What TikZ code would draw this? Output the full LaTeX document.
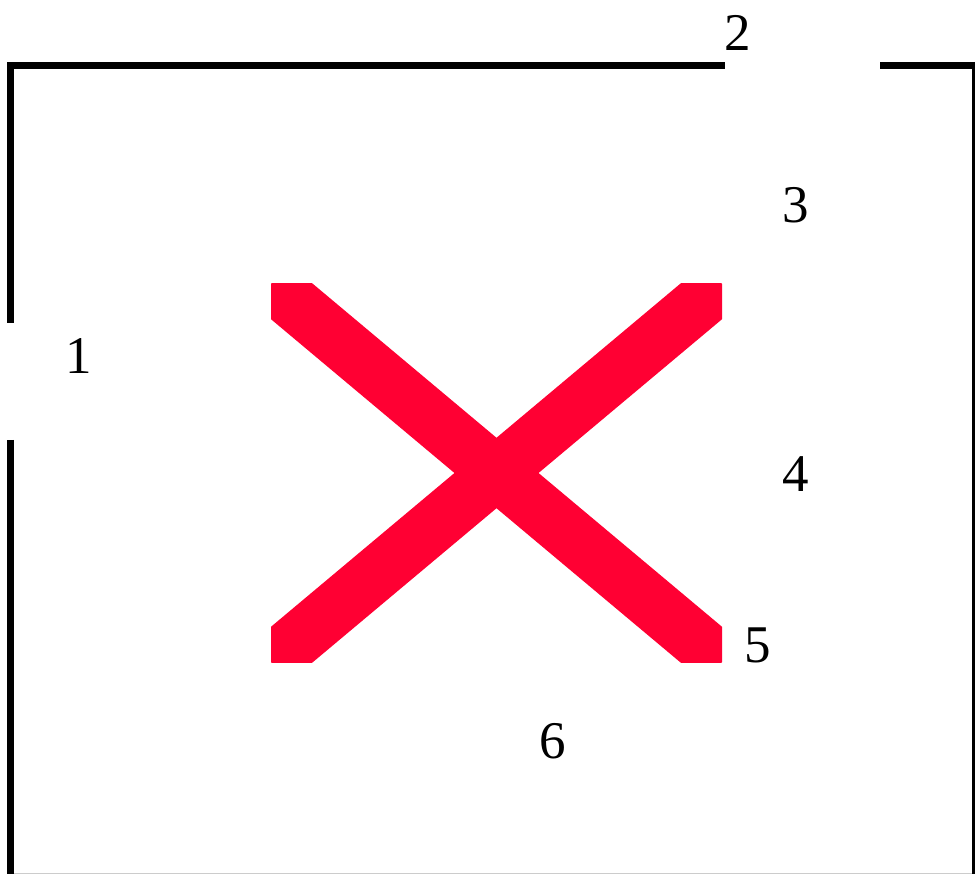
\documentclass[tikz,border=0pt]{standalone}
\usepackage{xcolor}
\usepackage{fontspec}
\setmainfont{Liberation Serif}
\usepackage{tikz}
\usetikzlibrary{positioning}
\definecolor{crossred}{HTML}{FF0033}

\begin{document}
\begin{tikzpicture}[x=1pt, y=-1pt, line join=miter,
        num/.style={font=\fontsize{53}{60}\selectfont, inner sep=0pt},
        wall/.style={black, line width=7pt}]
        \useasboundingbox (0, 0) rectangle (975, 874);
        \fill[white] (0, 0) rectangle (975, 874);
        \pgfmathsetmacro{\W}{10.5}
        \pgfmathsetmacro{\T}{65.5}
        % walls with the two openings
        \draw[wall] (\W, 323) -- (\W, \T) -- (725, \T);
        \draw[wall] (880, \T) -- (975, \T);
        \draw[wall] (\W, 440) -- (\W, 874);
        \draw[black, line width=3pt] (973.5, 62) -- (973.5, 874);
        \draw[gray!40, line width=1pt] (14, 873.5) -- (972, 873.5);
        % the cross
        \begin{scope}
            \clip (271, 284) rectangle (722, 662);
            \draw[crossred, line width=54pt] (271, 284) -- (722, 662);
            \draw[crossred, line width=54pt] (271, 662) -- (722, 284);
        \end{scope}
        \node[num] (n1) at (79, 356) {1};
        \node[num] (n2) at (738, 33) {2};
        \node[num] (n3) at (796, 205) {3};
        \node[num] (n4) at (796, 474) {4};
        \node[num] (n5) at (758, 645) {5};
        \node[num] (n6) at (553, 741) {6};
    \end{tikzpicture}
\end{document}
